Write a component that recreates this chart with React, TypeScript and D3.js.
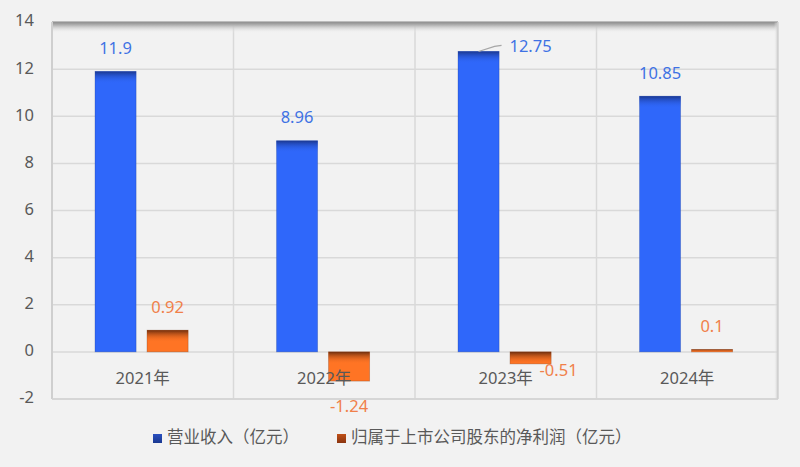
import React from "react";
import * as d3 from "d3";

const categories = ["2021年", "2022年", "2023年", "2024年"];
const revenue = [11.9, 8.96, 12.75, 10.85];
const netProfit = [0.92, -1.24, -0.51, 0.1];
const seriesNames = ["营业收入（亿元）", "归属于上市公司股东的净利润（亿元）"];
const yTicks = [-2, 0, 2, 4, 6, 8, 10, 12, 14];

const W = 800;
const H = 467;
const FONT = "'Noto Sans', 'Noto Sans CJK SC', sans-serif";

export default function App() {
  const left = 52;
  const right = 778;
  const top = 22;
  const bottom = 399;

  const y = d3.scaleLinear().domain([-2, 14]).range([bottom, top]);
  const x0 = d3.scaleBand<string>().domain(categories).range([left, right]).padding(0);
  const bw = x0.bandwidth();
  const x1 = d3
    .scaleBand<number>()
    .domain([0, 1])
    .range([bw * 0.237, bw * 0.75])
    .paddingInner(0.21)
    .paddingOuter(0);

  const series = [
    { values: revenue, fill: "#2f67fa", dark: "#1b3890", label: "#3f72e4", id: "b" },
    { values: netProfit, fill: "#ff7424", dark: "#6e2e0e", label: "#f0804a", id: "o" },
  ];

  // label placement tweaks (in px) for crowded labels
  const labelShift: Record<string, [number, number]> = {
    "0-2": [52, 18],
    "1-2": [28, -18],
  };

  return (
    <svg
      width={W}
      height={H}
      style={{ position: "absolute", left: 0, top: 0, background: "#f2f2f2", fontFamily: FONT }}
    >
      <defs>
        <linearGradient id="topShade" x1="0" y1="0" x2="0" y2="1">
          <stop offset="0" stopColor="#8a8a8a" />
          <stop offset="0.35" stopColor="#bdbdbd" />
          <stop offset="1" stopColor="#f2f2f2" stopOpacity="0" />
        </linearGradient>
        <linearGradient id="rightShade" x1="0" y1="0" x2="1" y2="0">
          <stop offset="0" stopColor="#f2f2f2" stopOpacity="0" />
          <stop offset="1" stopColor="#c4c4c4" />
        </linearGradient>
        {series.map((s) => (
          <linearGradient key={s.id} id={`g${s.id}`} x1="0" y1="0" x2="0" y2="1">
            <stop offset="0" stopColor={s.dark} />
            <stop offset="1" stopColor={s.fill} stopOpacity="0" />
          </linearGradient>
        ))}
        <linearGradient id="legB" x1="0" y1="0" x2="0" y2="1">
          <stop offset="0" stopColor="#2a50c0" />
          <stop offset="1" stopColor="#1a3890" />
        </linearGradient>
        <linearGradient id="legO" x1="0" y1="0" x2="0" y2="1">
          <stop offset="0" stopColor="#c05018" />
          <stop offset="1" stopColor="#8a3510" />
        </linearGradient>
      </defs>

      {/* wall */}
      <rect x={left} y={top} width={right - left} height={bottom - top} fill="#f2f2f2" />
      {/* horizontal gridlines */}
      {yTicks.map((t) => (
        <line
          key={t}
          x1={left}
          x2={right}
          y1={y(t)}
          y2={y(t)}
          stroke="#d9d9d9"
          strokeWidth={1.5}
        />
      ))}
      {/* category dividers */}
      {categories.slice(1).map((c) => (
        <line
          key={c}
          x1={x0(c)!}
          x2={x0(c)!}
          y1={top}
          y2={bottom}
          stroke="#d9d9d9"
          strokeWidth={1.5}
        />
      ))}
      {/* wall shading */}
      <rect x={left} y={top} width={right - left} height={11} fill="url(#topShade)" />
      <rect x={right - 4} y={top} width={4} height={bottom - top} fill="url(#rightShade)" />
      <line x1={left} x2={right} y1={top} y2={top} stroke="#999" strokeWidth={1.2} />
      <line x1={left} x2={left} y1={top} y2={bottom} stroke="#cfcfcf" strokeWidth={2} />
      <line x1={left} x2={right} y1={bottom} y2={bottom} stroke="#d3d3d3" strokeWidth={1.5} />
      <line x1={right} x2={right} y1={top} y2={bottom} stroke="#d0d0d0" strokeWidth={1.5} />

      {/* y tick labels */}
      {yTicks.map((t) => (
        <text
          key={t}
          x={34}
          y={y(t)}
          textAnchor="end"
          dominantBaseline="middle"
          fontSize={16.5}
          fill="#595959"
        >
          {t}
        </text>
      ))}

      {/* bars */}
      {series.map((s, si) =>
        categories.map((c, ci) => {
          const v = s.values[ci];
          const bx = x0(c)! + x1(si)!;
          const w = x1.bandwidth();
          const y0 = y(Math.max(0, v));
          const h = Math.abs(y(v) - y(0));
          const gh = Math.min(12, h);
          return (
            <g key={`${si}-${ci}`}>
              <rect x={bx} y={y0} width={w} height={h} fill={s.fill} stroke={s.dark} strokeOpacity={0.35} strokeWidth={0.8} />
              <rect x={bx} y={y0} width={w} height={gh} fill={`url(#g${s.id})`} />
            </g>
          );
        })
      )}

      {/* category labels */}
      {categories.map((c) => (
        <text
          key={c}
          x={x0(c)! + bw / 2}
          y={380}
          textAnchor="middle"
          dominantBaseline="middle"
          fontSize={16.5}
          fill="#595959"
        >
          {c}
        </text>
      ))}

      {/* data labels */}
      {series.map((s, si) =>
        categories.map((c, ci) => {
          const v = s.values[ci];
          const cx = x0(c)! + x1(si)! + x1.bandwidth() / 2;
          let ly = v >= 0 ? y(v) - 22 : y(v) + 26;
          let lx = cx;
          const shift = labelShift[`${si}-${ci}`];
          if (shift) {
            lx += shift[0];
            ly += shift[1];
          }
          return (
            <g key={`l${si}-${ci}`}>
              {si === 0 && ci === 2 && (
                <polyline
                  points={`${cx},${y(v)} ${cx + 16},${y(v) - 5} ${cx + 23},${y(v) - 6}`}
                  fill="none"
                  stroke="#a6a6a6"
                  strokeWidth={1.2}
                />
              )}
              <text
                x={lx}
                y={ly}
                textAnchor="middle"
                dominantBaseline="middle"
                fontSize={16.5}
                fill={s.label}
              >
                {v}
              </text>
            </g>
          );
        })
      )}

      {/* legend */}
      <rect x={153} y={434} width={9} height={9} fill="url(#legB)" />
      <text x={167} y={439} dominantBaseline="middle" fontSize={16.5} fill="#595959">
        {seriesNames[0]}
      </text>
      <rect x={337} y={434} width={9} height={9} fill="url(#legO)" />
      <text x={351} y={439} dominantBaseline="middle" fontSize={16.5} fill="#595959">
        {seriesNames[1]}
      </text>
    </svg>
  );
}
